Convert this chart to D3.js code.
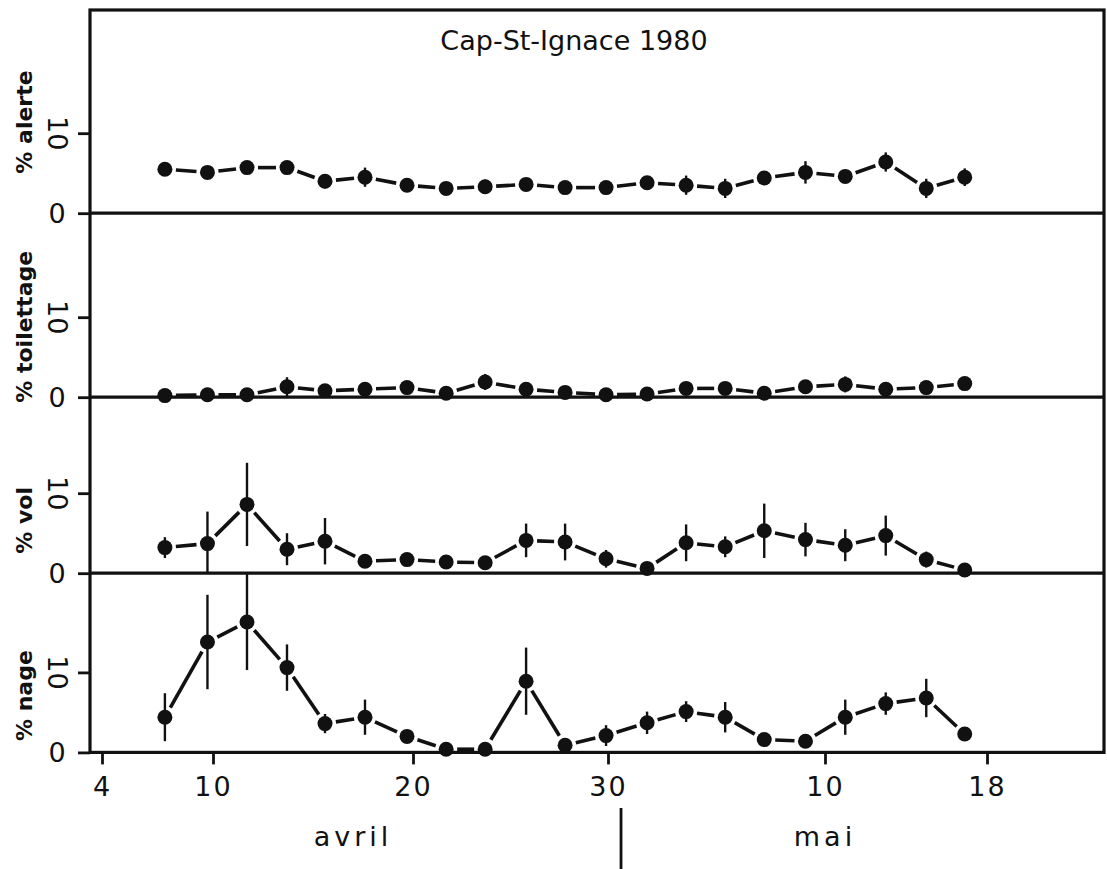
<!DOCTYPE html>
<html>
<head>
<meta charset="utf-8">
<script src="https://cdn.jsdelivr.net/npm/d3@7/dist/d3.min.js"></script>
<style>
  body { margin: 0; background: #fff; }
  svg text { font-family: "DejaVu Sans", sans-serif; fill: #111; }
</style>
</head>
<body>
<svg id="chart" width="1107" height="869"></svg>
<script>
// observation dates, in days from 1 April (a May date d is 30 + d),
// read off the hand drawn axis
var days = [7.4, 9.7, 11.7, 13.7, 15.6, 17.6, 19.7, 21.7, 23.7, 25.8, 27.8,
  29.9, 31.8, 33.6, 35.4, 37.2, 39.1, 41.0, 43.0, 45.0, 46.9];

// percent of time per behaviour, with the half length of each bar
var alerte = [5.5, 5.1, 5.7, 5.7, 4.0, 4.5, 3.5, 3.1, 3.3, 3.6, 3.2,
  3.2, 3.8, 3.5, 3.1, 4.4, 5.1, 4.6, 6.4, 3.1, 4.5];
var alerteErr = [0.3, 0.3, 0.4, 0.4, 0.9, 1.2, 0.6, 0.5, 0.9, 0.8, 0.6,
  0.5, 0.7, 1.2, 1.2, 0.8, 1.4, 0.8, 1.2, 1.2, 1.1];

var toilettage = [0.2, 0.3, 0.3, 1.3, 0.8, 1.0, 1.2, 0.5, 1.9, 1.0, 0.6,
  0.3, 0.4, 1.1, 1.1, 0.5, 1.3, 1.6, 1.0, 1.2, 1.7];
var toilettageErr = [0.2, 0.2, 0.2, 1.2, 0.4, 0.5, 0.5, 0.3, 1.0, 0.4, 0.3,
  0.2, 0.3, 0.5, 0.5, 0.3, 0.5, 1.0, 0.4, 0.4, 0.4];

var vol = [3.2, 3.7, 8.6, 3.0, 4.0, 1.5, 1.7, 1.4, 1.3, 4.1, 3.9,
  1.8, 0.6, 3.8, 3.3, 5.3, 4.2, 3.5, 4.7, 1.7, 0.4];
var volErr = [1.3, 4.0, 5.2, 2.0, 2.9, 0.6, 0.7, 0.5, 0.4, 2.1, 2.3,
  1.1, 0.4, 2.3, 1.3, 3.4, 2.1, 2.0, 2.5, 1.0, 0.3];

var nage = [4.4, 13.8, 16.3, 10.6, 3.6, 4.4, 2.0, 0.4, 0.4, 8.9, 0.9,
  2.1, 3.7, 5.1, 4.4, 1.6, 1.4, 4.4, 6.1, 6.8, 2.3];
var nageErr = [3.0, 5.9, 6.0, 2.9, 1.2, 2.2, 0.7, 0.3, 0.3, 4.2, 0.4,
  1.3, 1.4, 1.3, 1.9, 0.4, 0.4, 2.2, 1.4, 2.4, 0.5];

var tickDays = [4, 10, 20, 30, 40, 48];
var tickLabels = ["4", "10", "20", "30", "10", "18"];
var yTicks = [0, 10];
var months = ["avril", "mai"];
var monthDays = [17, 40];
var monthBreak = 30.6;
var title = "Cap-St-Ignace 1980";

// layout
var svg = d3.select("#chart");
var frame = {left: 90, right: 1104, top: 10};
var pxPerUnit = 8;
// the axis was drawn by hand: its ticks are not evenly spaced
var tickPos = [102, 213, 413, 608, 825, 987];

var panels = [
  {label: "% alerte", values: alerte, err: alerteErr, max: 25.4, labelAt: 11.4},
  {label: "% toilettage", values: toilettage, err: toilettageErr, max: 23, labelAt: 8.8},
  {label: "% vol", values: vol, err: volErr, max: 22, labelAt: 6.6},
  {label: "% nage", values: nage, err: nageErr, max: 22.4, labelAt: 7.1}
];

var xScale = d3.scaleLinear().domain(tickDays).range(tickPos);

var yCursor = frame.top;
panels.forEach(function (p) {
  var h = p.max * pxPerUnit;
  p.y = d3.scaleLinear().domain([0, p.max]).range([yCursor + h, yCursor]);
  p.y0 = yCursor;
  p.y1 = yCursor + h;
  yCursor += h;
});
var frameBottom = yCursor;

var r = 7.5;
var gap = r + 3.5;

/* one panel: connecting segments with a gap at each dot, bars, dots */
function drawPanel(p) {
  var g = svg.append("g").attr("class", "panel");
  var pts = days.map(function (d, i) {
    return {x: xScale(d), y: p.y(p.values[i]), v: p.values[i], e: p.err[i]};
  });
  var segs = d3.pairs(pts).map(function (pair) {
    var a = pair[0], b = pair[1];
    var dx = b.x - a.x, dy = b.y - a.y;
    var len = Math.sqrt(dx * dx + dy * dy);
    var ux = dx / len, uy = dy / len;
    return {x1: a.x + ux * gap, y1: a.y + uy * gap,
      x2: b.x - ux * gap, y2: b.y - uy * gap};
  });
  g.selectAll("line.seg")
    .data(segs)
    .enter()
    .append("line")
      .attr("class", "seg")
      .attr("x1", (d) => d.x1)
      .attr("y1", (d) => d.y1)
      .attr("x2", (d) => d.x2)
      .attr("y2", (d) => d.y2)
      .attr("stroke", "#111")
      .attr("stroke-width", 3.6);
  g.selectAll("line.err")
    .data(pts)
    .enter()
    .append("line")
      .attr("class", "err")
      .attr("x1", (d) => d.x)
      .attr("x2", (d) => d.x)
      .attr("y1", (d) => p.y(Math.min(d.v + d.e, p.max)))
      .attr("y2", (d) => p.y(Math.max(d.v - d.e, 0)))
      .attr("stroke", "#111")
      .attr("stroke-width", 2.4);
  g.selectAll("circle")
    .data(pts)
    .enter()
    .append("circle")
      .attr("cx", (d) => d.x)
      .attr("cy", (d) => d.y)
      .attr("r", r)
      .attr("fill", "#111");

  // y ticks and their numbers
  var yAxis = d3.axisLeft(p.y).tickValues(yTicks).tickSize(12).tickFormat("");
  var ax = svg.append("g")
    .attr("transform", "translate(" + frame.left + ",0)")
    .call(yAxis);
  ax.select(".domain").remove();
  ax.selectAll(".tick line").attr("stroke", "#111").attr("stroke-width", 2.8);
  yTicks.forEach(function (t) {
    var lab = svg.append("text")
      .attr("text-anchor", "middle")
      .attr("dominant-baseline", "central")
      .style("font-size", "27px")
      .text(String(t));
    if (t === 0) {
      lab.attr("x", 57).attr("y", p.y(t));
    } else {
      lab.attr("transform", "translate(57," + p.y(t) + ") rotate(90)");
    }
  });

  svg.append("text")
    .attr("text-anchor", "middle")
    .attr("dominant-baseline", "central")
    .attr("transform", "translate(24," + p.y(p.labelAt) + ") rotate(-90)")
    .style("font-size", "22px")
    .style("font-weight", "bold")
    .text(p.label);
}

panels.forEach(drawPanel);

// frame and the panel dividers
svg.append("rect")
  .attr("x", frame.left)
  .attr("y", frame.top)
  .attr("width", frame.right - frame.left)
  .attr("height", frameBottom - frame.top)
  .attr("fill", "none")
  .attr("stroke", "#111")
  .attr("stroke-width", 3.2);
svg.selectAll("line.divider")
  .data(panels.slice(0, -1))
  .enter()
  .append("line")
    .attr("class", "divider")
    .attr("x1", frame.left)
    .attr("x2", frame.right)
    .attr("y1", (d) => d.y1)
    .attr("y2", (d) => d.y1)
    .attr("stroke", "#111")
    .attr("stroke-width", 3.2);

// x axis
var xAxis = d3.axisBottom(xScale).tickValues(tickDays).tickSize(12)
  .tickFormat((d, i) => tickLabels[i]);
var xa = svg.append("g")
  .attr("transform", "translate(0," + frameBottom + ")")
  .call(xAxis);
xa.select(".domain").remove();
xa.selectAll(".tick line").attr("stroke", "#111").attr("stroke-width", 2.8);
xa.selectAll(".tick text")
  .attr("y", 24)
  .attr("dy", "0.71em")
  .style("font-family", "DejaVu Sans, sans-serif")
  .style("font-size", "27px")
  .style("letter-spacing", "2px")
  .attr("fill", "#111");

// month names and the line between them
svg.selectAll("text.month")
  .data(months)
  .enter()
  .append("text")
    .attr("class", "month")
    .attr("x", (d, i) => xScale(monthDays[i]))
    .attr("y", 846)
    .attr("text-anchor", "middle")
    .style("font-size", "27px")
    .style("letter-spacing", "4px")
    .text((d) => d);
svg.append("line")
  .attr("x1", xScale(monthBreak))
  .attr("x2", xScale(monthBreak))
  .attr("y1", 808)
  .attr("y2", 869)
  .attr("stroke", "#111")
  .attr("stroke-width", 2.8);

svg.append("text")
  .attr("x", 574)
  .attr("y", 50)
  .attr("text-anchor", "middle")
  .style("font-size", "27px")
  .text(title);
</script>
</body>
</html>
